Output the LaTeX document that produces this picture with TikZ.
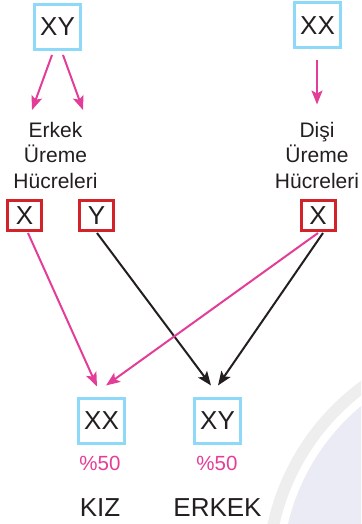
\documentclass[tikz,border=0pt]{standalone}
\usepackage{fontspec}
\setmainfont{Liberation Sans}
\usetikzlibrary{arrows.meta,calc}
\definecolor{cbox}{HTML}{8ED8F8}
\definecolor{rbox}{HTML}{D2232A}
\definecolor{pk}{HTML}{E43D98}
\definecolor{tx}{HTML}{231F20}
\definecolor{wmgray}{HTML}{EEEEEE}
\definecolor{wmblue}{HTML}{EBEBF5}
\begin{document}
\begin{tikzpicture}[x=1pt,y=-1pt,
  cyanbox/.style={draw=cbox, line width=3pt, minimum width=46pt, minimum height=45pt, inner sep=0pt, font=\fontsize{26}{30}\selectfont, text=tx},
  redbox/.style={draw=rbox, line width=3pt, minimum width=34pt, minimum height=30pt, inner sep=0pt, font=\fontsize{26}{30}\selectfont, text=tx},
  lbl/.style={inner sep=0pt, align=center, anchor=north, font=\fontsize{21}{25.5}\selectfont, text=tx},
  pct/.style={inner sep=0pt, anchor=base, font=\fontsize{20.5}{24}\selectfont, text=pk},
  sex/.style={inner sep=0pt, anchor=base, font=\fontsize{26}{30}\selectfont, text=tx},
  parrow/.style={draw=pk, line width=2pt, -{Stealth[length=14pt,width=11pt,inset=3pt]}},
  barrow/.style={draw=tx, line width=2pt, -{Stealth[length=14pt,width=11pt,inset=3pt]}}]
\useasboundingbox (0,0) rectangle (361,524);
\begin{scope}
\clip (0,0) rectangle (361,524);
\fill[wmgray] (502,575) circle[radius=240pt];
\fill[white] (502,575) circle[radius=228pt];
\fill[wmblue] (502,575) circle[radius=220pt];
\end{scope}
% top parents
\node[cyanbox] (xyt) at (57.5,27) {XY};
\node[cyanbox] (xxt) at (317.5,25.5) {XX};
% labels
\node[lbl] (erkek) at (55.5,122) {Erkek\\Üreme\\Hücreleri};
\node[lbl] (disi) at (317,122) {Dişi\\Üreme\\Hücreleri};
% gametes
\node[redbox] (xl) at (24.5,215.5) {X};
\node[redbox] (yb) at (96.5,215.5) {Y};
\node[redbox] (xr) at (318,215.5) {X};
% children
\node[cyanbox] (kiz) at (101.5,420.5) {XX};
\node[cyanbox] (erk) at (217.5,420.5) {XY};
\node[pct] (p1) at (100,470) {\%50};
\node[pct] (p2) at (217,470) {\%50};
\node[sex] (skiz) at (100,516.5) {KIZ};
\node[sex] (serk) at (217.5,516.5) {ERKEK};
% top arrows
\draw[parrow] ($(xyt.south)+(-5.5,4)$) -- ($(xyt.south)+(-25.5,59)$);
\draw[parrow] ($(xyt.south)+(5.5,4)$) -- ($(xyt.south)+(25.5,59)$);
\draw[parrow] ($(xxt.south)+(-0.5,11)$) -- ($(xxt.south)+(-0.5,55)$);
% crossing arrows
\draw[parrow] ($(xl.south)+(3.5,1)$) -- ($(kiz.north)+(-4.5,-10)$);
\draw[barrow] ($(yb.south)+(0.5,1)$) -- ($(erk.north)+(-6.5,-11)$);
\draw[parrow] ($(xr.south)+(0,1)$) -- ($(kiz.north)+(4.5,-11)$);
\draw[barrow] ($(xr.south)+(5,1)$) -- ($(erk.north)+(0.5,-11)$);
\end{tikzpicture}
\end{document}
